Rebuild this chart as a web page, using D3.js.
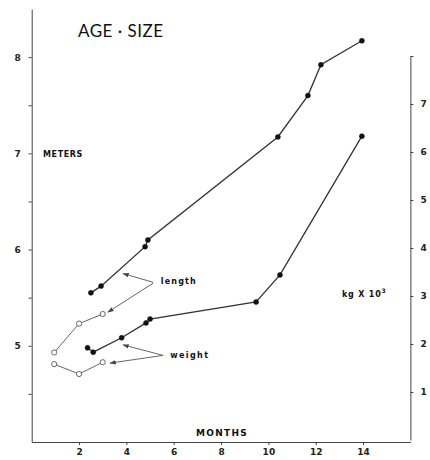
<!DOCTYPE html>
<html>
<head>
<meta charset="utf-8">
<script src="https://cdn.jsdelivr.net/npm/d3@7"></script>
<style>
  body { margin: 0; background: #fff; }
  .eje path, .eje line { stroke: #444; stroke-width: 1; }
  .eje text { font-family: 'DejaVu Sans', sans-serif; font-size: 9px; font-weight: bold; fill: #222; }
</style>
</head>
<body>
<div id="graf"></div>
<script>
// Datos
// longitud (metros) - puntos rellenos
largoMeses   = [2.5, 2.93, 4.79, 4.91, 10.4, 11.67, 12.22, 13.95]
largoMetros  = [5.55, 5.62, 6.03, 6.1, 7.17, 7.6, 7.92, 8.17]
// peso (kg x 10^3) - puntos rellenos
pesoMeses    = [2.36, 2.6, 3.8, 4.83, 5.0, 9.48, 10.49, 13.95]
pesoKg       = [1.92, 1.83, 2.13, 2.44, 2.52, 2.875, 3.44, 6.33]
// puntos abiertos
abiertoMeses = [0.95, 2.0, 3.0]
abiertoLargo = [4.93, 5.23, 5.33]
abiertoPeso  = [1.58, 1.375, 1.62]

ticksX    = [2, 4, 6, 8, 10, 12, 14]
ticksIzq  = [4.5, 5, 5.5, 6, 6.5, 7, 7.5, 8]
ticksDer  = [1, 2, 3, 4, 5, 6, 7, 8]

// I. Configuración
ancho = 430
alto  = 460

svg = d3.select('#graf').append('svg')
        .attr('width', ancho)
        .attr('height', alto)

x = d3.scaleLinear()
      .domain([0, 16])
      .range([31.7, 410.4])

yIzq = d3.scaleLinear()
      .domain([4, 8.5])
      .range([442, 9])

yDer = d3.scaleLinear()
      .domain([0, 8])
      .range([440, 56])

// II. Ejes
svg.append('g')
    .attr('class', 'eje')
    .attr('transform', `translate(${ x(0) }, 0)`)
    .call(d3.axisLeft(yIzq)
            .tickValues(ticksIzq)
            .tickSize(3)
            .tickSizeOuter(0)
            .tickPadding(8)
            .tickFormat(d => Number.isInteger(d) && d > 4 ? d : ''))

svg.append('g')
    .attr('class', 'eje')
    .attr('transform', `translate(${ x(16) }, 0)`)
    .call(d3.axisRight(yDer)
            .tickValues(ticksDer)
            .tickSize(3)
            .tickSizeOuter(0)
            .tickPadding(7)
            .tickFormat(d => d < 8 ? d : ''))

svg.append('g')
    .attr('class', 'eje')
    .attr('transform', `translate(0, ${ yIzq(4) })`)
    .call(d3.axisBottom(x)
            .tickValues(ticksX)
            .tickSize(3)
            .tickSizeOuter(0)
            .tickPadding(4))

// III. Líneas y puntos
linea = d3.line()

function serie(meses, valores, escala, abierto, color) {
  puntos = meses.map((m, i) => [x(m), escala(valores[i])])
  svg.append('path')
      .attr('d', linea(puntos))
      .attr('fill', 'none')
      .attr('stroke', color)
      .attr('stroke-width', abierto ? 1 : 1.3)
  svg.append('g').selectAll('circle')
      .data(puntos)
      .enter()
      .append('circle')
        .attr('cx', d => d[0])
        .attr('cy', d => d[1])
        .attr('r', abierto ? 2.6 : 2.5)
        .attr('fill', abierto ? '#fff' : '#111')
        .attr('stroke', abierto ? '#555' : '#111')
        .attr('stroke-width', abierto ? 0.9 : 0.5)
}

serie(largoMeses, largoMetros, yIzq, false, '#333')
serie(pesoMeses, pesoKg, yDer, false, '#333')
serie(abiertoMeses, abiertoLargo, yIzq, true, '#666')
serie(abiertoMeses, abiertoPeso, yDer, true, '#666')

// IV. Flechas de las etiquetas
svg.append('defs').append('marker')
    .attr('id', 'punta')
    .attr('viewBox', '0 0 10 10')
    .attr('refX', 9)
    .attr('refY', 5)
    .attr('markerWidth', 7)
    .attr('markerHeight', 7)
    .attr('orient', 'auto')
  .append('path')
    .attr('d', 'M0,1.5 L10,5 L0,8.5 Z')
    .attr('fill', '#444')

flechas = [
  // [desde mes, desde metro, hasta mes, hasta metro]
  [5.13, 5.66, 3.86, 5.75],
  [5.13, 5.65, 3.22, 5.35],
  [5.55, 4.9, 3.86, 5.01],
  [5.55, 4.9, 3.31, 4.82]
]
svg.append('g').selectAll('line')
    .data(flechas)
    .enter()
    .append('line')
      .attr('x1', d => x(d[0]))
      .attr('y1', d => yIzq(d[1]))
      .attr('x2', d => x(d[2]))
      .attr('y2', d => yIzq(d[3]))
      .attr('stroke', '#555')
      .attr('stroke-width', 0.9)
      .attr('marker-end', 'url(#punta)')

// V. Textos
function texto(tx, px, py, tam, peso, esp) {
  return svg.append('text')
      .attr('x', px)
      .attr('y', py)
      .style('font-family', "'DejaVu Sans', sans-serif")
      .style('font-size', tam + 'px')
      .style('font-weight', peso)
      .style('letter-spacing', esp + 'px')
      .style('fill', '#111')
      .text(tx)
}

svg.append('text')
    .attr('x', 78)
    .attr('y', 37)
    .style('font-family', "'Lato', sans-serif")
    .style('font-size', '17px')
    .style('letter-spacing', '0.5px')
    .style('fill', '#111')
    .text('AGE · SIZE')

texto('METERS', 43, 157, 8, 'bold', 0.6)
texto('MONTHS', 196, 436, 9, 'bold', 1.3)
texto('length', x(5.45), yIzq(5.64), 8, 'bold', 1.2)
texto('weight', x(5.85), yIzq(4.87), 8, 'bold', 1.4)

kg = texto('kg X 10', 342, 297, 8, 'bold', 0.8)
kg.append('tspan')
    .attr('dy', -4)
    .style('font-size', '6px')
    .text('3')
</script>
</body>
</html>
